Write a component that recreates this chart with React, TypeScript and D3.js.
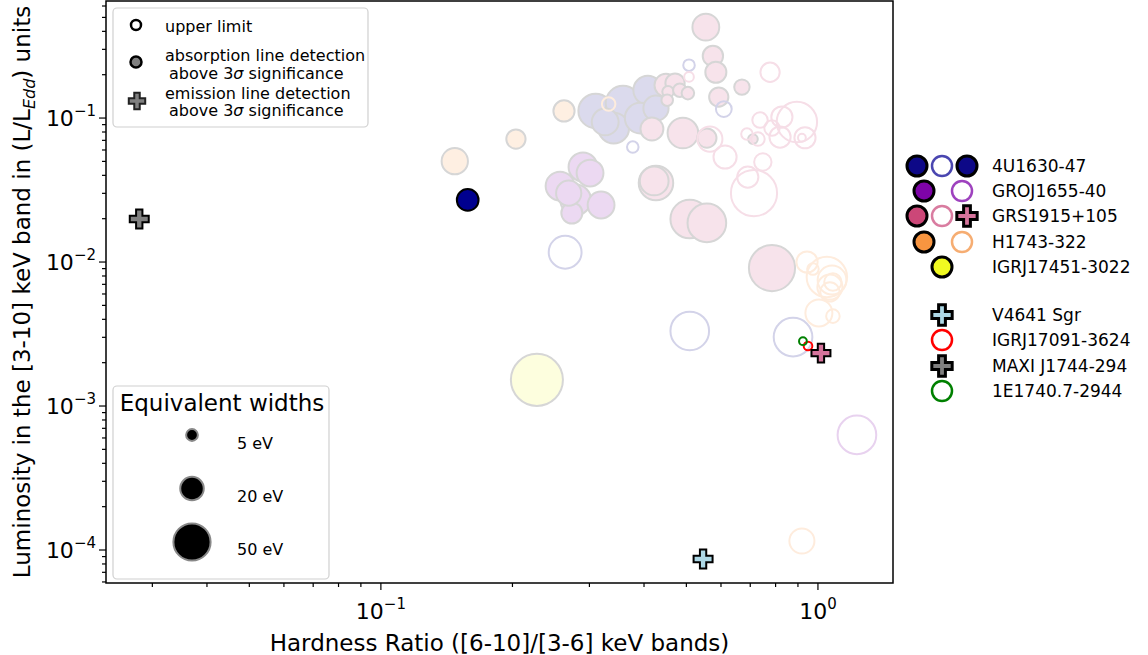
import React from "react";
import * as d3 from "d3";

// each entry: [hardness ratio, luminosity (L/LEdd), equivalent width (eV)]
const u1630Det = [
  [0.31, 0.112, 43], [0.358, 0.127, 43], [0.341, 0.085, 34], [0.408, 0.156, 30],
  [0.392, 0.1, 34], [0.326, 0.094, 26], [0.426, 0.117, 23],
];
const u1630DetHl = [[0.158, 0.027, 17]];
const u1630Ul = [
  [0.264, 0.0117, 39], [0.509, 0.00332, 54], [0.877, 0.00301, 54],
  [0.377, 0.0629, 4.8], [0.609, 0.1155, 9], [0.507, 0.233, 4.8],
];
const groDet = [
  [0.29, 0.0457, 30], [0.301, 0.0415, 26], [0.257, 0.0337, 30], [0.279, 0.027, 34],
  [0.319, 0.0249, 26], [0.2735, 0.0219, 16], [0.269, 0.0301, 23],
];
const groUl = [[1.228, 0.00063, 54]];
const grsDet = [
  [0.554, 0.428, 26], [0.575, 0.27, 15], [0.584, 0.208, 16], [0.67, 0.164, 8.6],
  [0.593, 0.14, 13.4], [0.491, 0.0787, 34], [0.417, 0.0839, 19], [0.557, 0.0726, 13.4],
  [0.426, 0.0354, 43], [0.422, 0.0366, 30], [0.509, 0.0199, 54], [0.557, 0.0187, 54],
  [0.785, 0.00908, 77], [0.449, 0.169, 19], [0.471, 0.175, 13.4], [0.454, 0.152, 4.8],
  [0.483, 0.156, 6.6], [0.504, 0.149, 5.7], [0.452, 0.133, 4.8], [0.71, 0.0714, 3.4],
];
const grsUl = [
  [0.777, 0.208, 13.4], [0.566, 0.0714, 22.7], [0.613, 0.0536, 19.3], [0.688, 0.0774, 4.8],
  [0.737, 0.0968, 8.6], [0.729, 0.0714, 6.6], [0.785, 0.0852, 8.6], [0.827, 0.1016, 16.2],
  [0.895, 0.0938, 59], [0.819, 0.0738, 16.2], [0.934, 0.073, 16.2], [0.919, 0.073, 2.2],
  [0.748, 0.0495, 10.9], [0.691, 0.0389, 16.2], [0.714, 0.0301, 77], [0.507, 0.193, 3.4],
];
const grsEm = [[1.016, 0.00233]];
const h1743Det = [[0.1476, 0.0502, 25], [0.2037, 0.0715, 13.4], [0.2624, 0.112, 16.2]];
const h1743Ul = [
  [0.332, 0.125, 6.6], [0.944, 0.01, 16.2], [0.974, 0.00893, 4.8], [1.048, 0.00787, 59],
  [1.077, 0.0075, 30], [1.082, 0.00726, 10.9], [1.065, 0.0067, 22.7], [1.065, 0.0062, 13.4],
  [1.005, 0.00443, 26.3], [1.082, 0.00421, 6.6], [0.919, 0.0001155, 22.7],
];
const igr17451Det = [[0.2275, 0.00152, 98]];
const v4641Em = [[0.546, 8.66e-5]];
const igr17091Ul = [[0.949, 0.00261, 2.7]];
const maxiEm = [[0.028, 0.0199]];
const e1740Ul = [[0.924, 0.00282, 2.2]];

const legendSources = ["4U1630-47", "GROJ1655-40", "GRS1915+105", "H1743-322", "IGRJ17451-3022"];
const legendOthers = ["V4641 Sgr", "IGRJ17091-3624", "MAXI J1744-294", "1E1740.7-2944"];
const ewLegend = [5, 20, 50];

const col = {
  u1630: "#0d0887", gro: "#7e03a8", grs: "#cc4778", h1743: "#f89540", igr: "#f0f921",
};
const colOpen = {
  u1630: "#4a46b0", gro: "#9e42be", grs: "#d97ca0", h1743: "#f6ad72",
};

const W = 1148;
const H = 655;
const L = 106, R = 893, T = 1, B = 583;
const font = "DejaVu Sans, sans-serif";

const x = d3.scaleLog().domain([0.0235, 1.485]).range([L, R]);
const y = d3.scaleLog().domain([5.9e-5, 0.65]).range([B, T]);
const rS = d3.scaleSqrt().domain([0, 50]).range([0, 18.6]);
const cross = (s: number) => d3.symbol(d3.symbolCross, s)() as string;
const fade = (c: string, a: number) => d3.interpolateRgb("#ffffff", c)(a);

const isMajor = (v: number) => Math.abs(Math.log10(v) - Math.round(Math.log10(v))) < 1e-6;
const expLabel = (v: number) => {
  const e = Math.round(Math.log10(v));
  return e < 0 ? "\u2212" + Math.abs(e) : String(e);
};

const Faded = ({ data, c, open }: { data: number[][]; c: string; open?: boolean }) => (
  <g>
    {data.map((d, i) =>
      open ? (
        <circle key={i} cx={x(d[0])} cy={y(d[1])} r={rS(d[2])} fill="none" stroke={fade(c, 0.18)} strokeWidth={2} />
      ) : (
        <circle key={i} cx={x(d[0])} cy={y(d[1])} r={rS(d[2])} fill={fade(c, 0.15)} stroke="#d6d6d6" strokeWidth={2} />
      )
    )}
  </g>
);

const Cross = ({ cx, cy, fill, s = 200, sw = 2, stroke = "#000" }: any) => (
  <path d={cross(s)} transform={`translate(${cx},${cy})`} fill={fill} stroke={stroke} strokeWidth={sw} strokeLinejoin="miter" />
);

export default function App() {
  const xt = x.ticks();
  const yt = y.ticks();
  const rowsY = [166, 191, 216, 242, 267];
  const rowsY2 = [315, 340, 366, 391];
  const legR = 10;
  return (
    <svg width={W} height={H} style={{ position: "absolute", left: 0, top: 0, background: "#fff" }} fontFamily={font}>
      <rect x={0} y={0} width={W} height={H} fill="#fff" />
      {/* faded background points */}
      <Faded data={u1630Det} c={col.u1630} />
      <Faded data={groDet} c={col.gro} />
      <Faded data={grsDet} c={col.grs} />
      <Faded data={h1743Det} c={col.h1743} />
      <Faded data={igr17451Det} c={col.igr} />
      <Faded data={u1630Ul} c={col.u1630} open />
      <Faded data={groUl} c={col.gro} open />
      <Faded data={grsUl} c={col.grs} open />
      <Faded data={h1743Ul} c={col.h1743} open />

      {/* highlighted points */}
      {u1630DetHl.map((d, i) => (
        <circle key={i} cx={x(d[0])} cy={y(d[1])} r={rS(d[2])} fill="#00008f" stroke="#000" strokeWidth={2} />
      ))}
      {igr17091Ul.map((d, i) => (
        <circle key={i} cx={x(d[0])} cy={y(d[1])} r={rS(d[2])} fill="none" stroke="#ff0000" strokeWidth={2} />
      ))}
      {e1740Ul.map((d, i) => (
        <circle key={i} cx={x(d[0])} cy={y(d[1])} r={rS(d[2])} fill="none" stroke="#008000" strokeWidth={2} />
      ))}
      {grsEm.map((d, i) => <Cross key={i} cx={x(d[0])} cy={y(d[1])} fill="#d6749c" />)}
      {v4641Em.map((d, i) => <Cross key={i} cx={x(d[0])} cy={y(d[1])} fill="#add8e6" />)}
      {maxiEm.map((d, i) => <Cross key={i} cx={x(d[0])} cy={y(d[1])} fill="#808080" />)}

      {/* axes frame */}
      <rect x={L} y={T} width={R - L} height={B - T} fill="none" stroke="#000" strokeWidth={1.5} />
      {xt.map((v, i) => {
        const m = isMajor(v);
        return (
          <g key={i}>
            <line x1={x(v)} x2={x(v)} y1={B} y2={B + (m ? 7 : 4)} stroke="#000" strokeWidth={1.2} />
            {m && (
              <text x={x(v)} y={619} fontSize={22} textAnchor="middle">
                10<tspan dy={-10} fontSize={15}>{expLabel(v)}</tspan>
              </text>
            )}
          </g>
        );
      })}
      {yt.map((v, i) => {
        const m = isMajor(v);
        return (
          <g key={i}>
            <line x1={L} x2={L - (m ? 7 : 4)} y1={y(v)} y2={y(v)} stroke="#000" strokeWidth={1.2} />
            {m && (
              <text x={96} y={y(v) + 8} fontSize={22} textAnchor="end">
                10<tspan dy={-10} fontSize={15}>{expLabel(v)}</tspan>
              </text>
            )}
          </g>
        );
      })}
      <text x={(L + R) / 2} y={651} fontSize={23} textAnchor="middle">
        Hardness Ratio ([6-10]/[3-6] keV bands)
      </text>
      <text transform={`translate(30,${(T + B) / 2}) rotate(-90)`} fontSize={23} textAnchor="middle">
        Luminosity in the [3-10] keV band in (L/L
        <tspan fontSize={16} fontStyle="italic" dy={5}>Edd</tspan>
        <tspan dy={-5}>) units</tspan>
      </text>

      {/* marker-type legend */}
      <rect x={113} y={8} width={255} height={119} rx={4} fill="#fff" fillOpacity={0.8} stroke="#d0d0d0" strokeWidth={1.2} />
      <circle cx={136} cy={25} r={5} fill="#fff" stroke="#000" strokeWidth={2.5} />
      <circle cx={136} cy={62} r={5.5} fill="#808080" stroke="#000" strokeWidth={2.5} />
      <Cross cx={137} cy={101} fill="#808080" s={150} sw={2} stroke="#222" />
      <g fontSize={16}>
        <text x={165} y={32}>upper limit</text>
        <text x={165} y={61}>absorption line detection</text>
        <text x={169} y={79}>above 3<tspan fontStyle="italic">σ</tspan> significance</text>
        <text x={165} y={99}>emission line detection</text>
        <text x={169} y={116}>above 3<tspan fontStyle="italic">σ</tspan> significance</text>
      </g>

      {/* equivalent widths legend */}
      <rect x={113} y={386} width={216} height={193} rx={4} fill="#fff" fillOpacity={0.8} stroke="#d0d0d0" strokeWidth={1.2} />
      <text x={222} y={411} fontSize={23} textAnchor="middle">Equivalent widths</text>
      {ewLegend.map((e, i) => (
        <g key={i}>
          <circle cx={192} cy={435 + i * 53.5} r={rS(e)} fill="#000" stroke="#888" strokeWidth={2} />
          <text x={237} y={449 + i * 53} fontSize={16}>{e} eV</text>
        </g>
      ))}

      {/* source legend */}
      <g>
        <circle cx={917} cy={rowsY[0]} r={legR} fill={col.u1630} stroke="#000" strokeWidth={3} />
        <circle cx={942} cy={rowsY[0]} r={legR} fill="#fff" stroke={colOpen.u1630} strokeWidth={2.5} />
        <circle cx={967} cy={rowsY[0]} r={legR} fill={col.u1630} stroke="#000" strokeWidth={3} />
        <circle cx={924} cy={rowsY[1]} r={legR} fill={col.gro} stroke="#000" strokeWidth={3} />
        <circle cx={962} cy={rowsY[1]} r={legR} fill="#fff" stroke={colOpen.gro} strokeWidth={2.5} />
        <circle cx={917} cy={rowsY[2]} r={legR} fill={col.grs} stroke="#000" strokeWidth={3} />
        <circle cx={942} cy={rowsY[2]} r={legR} fill="#fff" stroke={colOpen.grs} strokeWidth={2.5} />
        <Cross cx={967} cy={rowsY[2]} fill="#d6749c" s={230} sw={3} />
        <circle cx={924} cy={rowsY[3]} r={legR} fill={col.h1743} stroke="#000" strokeWidth={3} />
        <circle cx={962} cy={rowsY[3]} r={legR} fill="#fff" stroke={colOpen.h1743} strokeWidth={2.5} />
        <circle cx={942} cy={rowsY[4]} r={legR} fill={col.igr} stroke="#000" strokeWidth={3} />
        <Cross cx={942} cy={rowsY2[0]} fill="#add8e6" s={230} sw={3} />
        <circle cx={942} cy={rowsY2[1]} r={legR} fill="#fff" stroke="#ff0000" strokeWidth={2.5} />
        <Cross cx={942} cy={rowsY2[2]} fill="#808080" s={230} sw={3} />
        <circle cx={942} cy={rowsY2[3]} r={legR} fill="#fff" stroke="#008000" strokeWidth={2.5} />
      </g>
      <g fontSize={17}>
        {legendSources.map((s, i) => (
          <text key={s} x={992} y={rowsY[i] + 6}>{s}</text>
        ))}
        {legendOthers.map((s, i) => (
          <text key={s} x={992} y={rowsY2[i] + 6}>{s}</text>
        ))}
      </g>
    </svg>
  );
}
